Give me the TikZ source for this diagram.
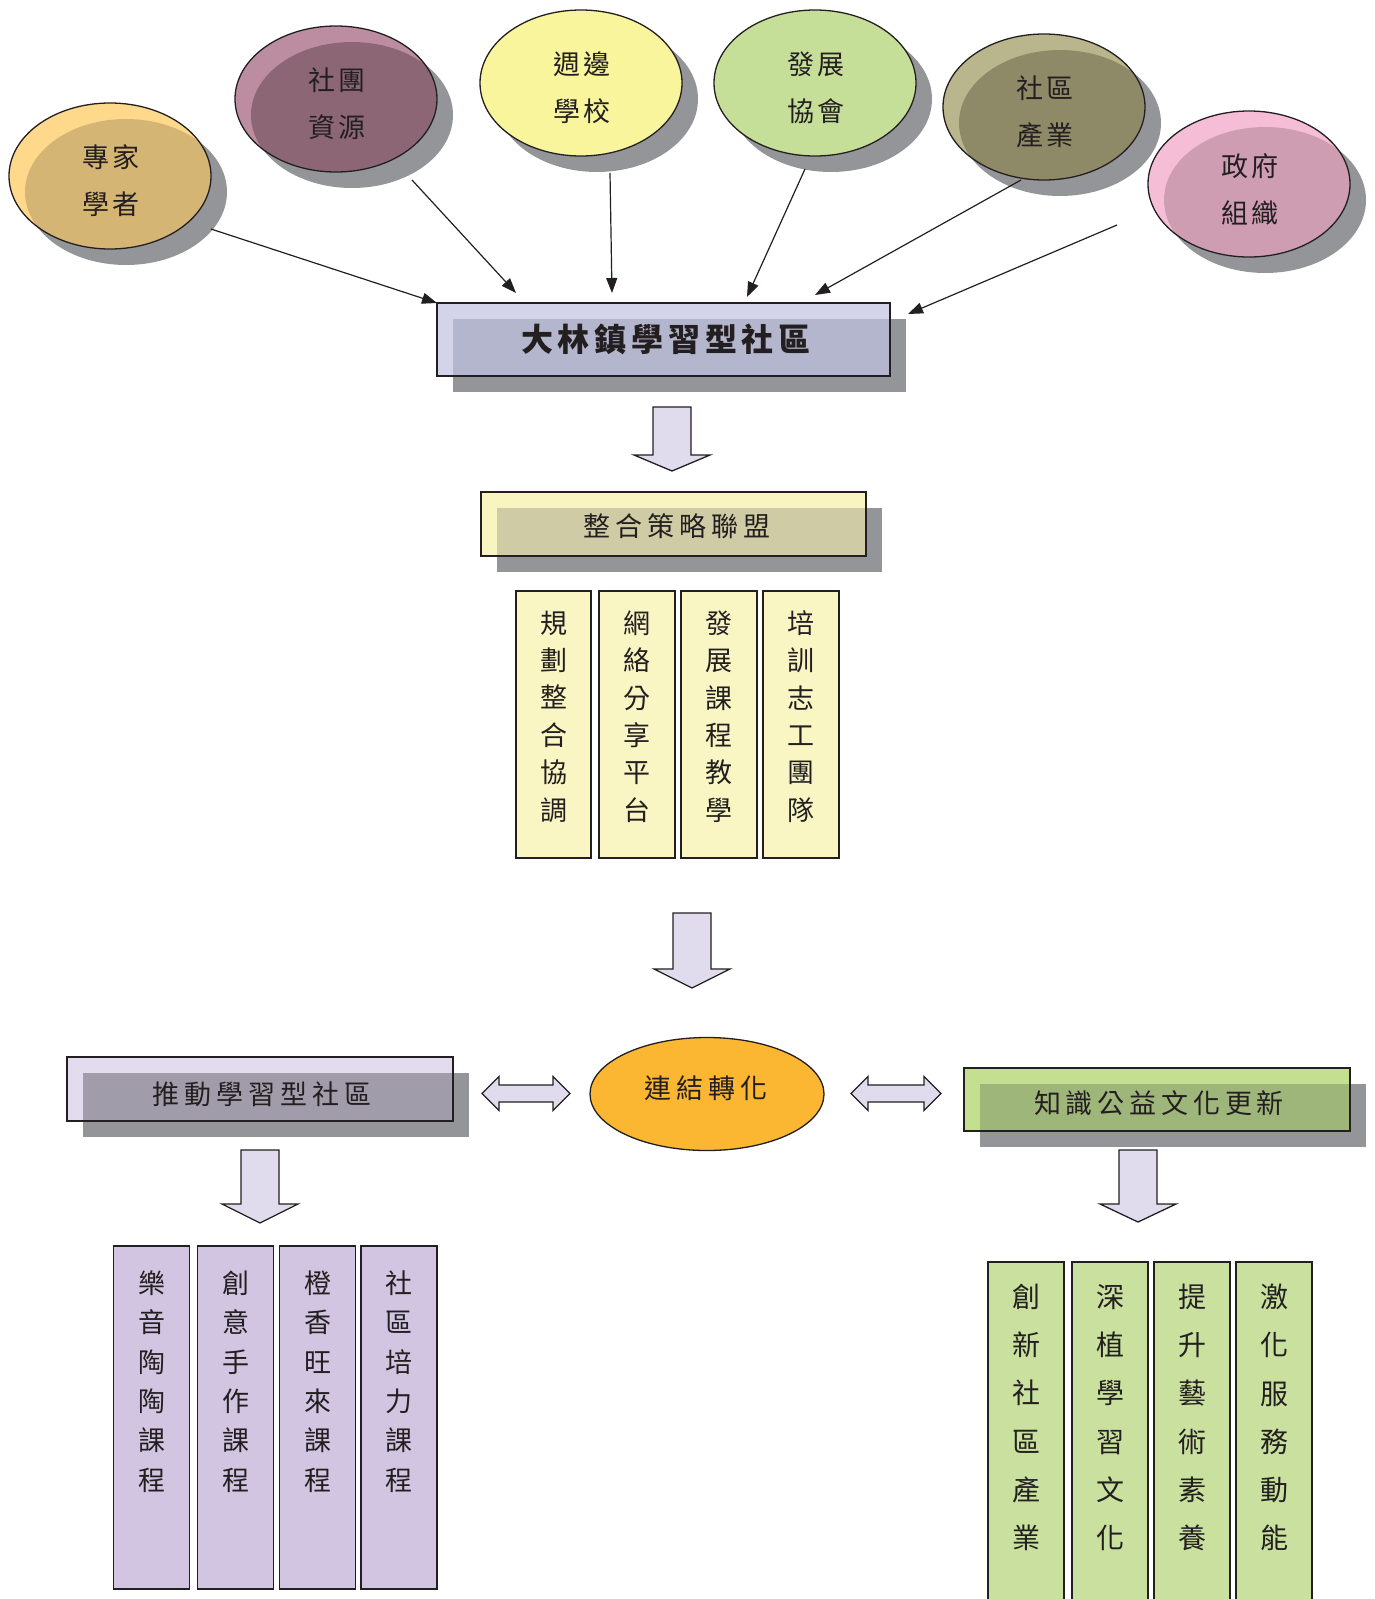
\documentclass[tikz,border=0pt]{standalone}
\usepackage{fontspec}
\newfontfamily\cjk{Noto Sans CJK TC}
\newfontfamily\cjkls{Noto Sans CJK TC}[LetterSpace=10]
\newfontfamily\cjkti{Noto Sans CJK TC}[LetterSpace=18]
\usetikzlibrary{arrows.meta,shapes.geometric}
\definecolor{shadowgray}{HTML}{939598}
\definecolor{ink}{HTML}{231F20}
\definecolor{lav}{HTML}{E1DBEE}
\definecolor{eAl}{HTML}{FFD98B}\definecolor{eAd}{HTML}{D4B573}
\definecolor{eBl}{HTML}{BC8CA1}\definecolor{eBd}{HTML}{8D6676}
\definecolor{eCl}{HTML}{F8F59D}\definecolor{eCd}{HTML}{F8F59D}
\definecolor{eDl}{HTML}{C6DF98}\definecolor{eDd}{HTML}{C6DF98}
\definecolor{eEl}{HTML}{B9B58C}\definecolor{eEd}{HTML}{8E8A68}
\definecolor{eFl}{HTML}{F5BDD6}\definecolor{eFd}{HTML}{CF9DB2}
\definecolor{mainl}{HTML}{D3D3E9}\definecolor{maind}{HTML}{B4B6CD}
\definecolor{yell}{HTML}{F9F5C1}\definecolor{yeld}{HTML}{CFCBA4}
\definecolor{ycol}{HTML}{FAF6C4}
\definecolor{purl}{HTML}{E2DCEE}\definecolor{purd}{HTML}{A19CA9}
\definecolor{pcol}{HTML}{D1C5E1}
\definecolor{grnl}{HTML}{C3DF8F}\definecolor{grnd}{HTML}{9FB67B}
\definecolor{gcol}{HTML}{C9E09E}
\definecolor{orng}{HTML}{FBB632}
\tikzset{
  bubblenode/.style={ellipse, draw=ink, line width=1.3pt, minimum width=202pt, minimum height=146pt, inner sep=0pt},
  bubbletext/.style={inner sep=0pt, align=center, text=ink, font=\cjkls\fontsize{27}{47}\selectfont},
  boxline/.style={draw=ink, line width=1.5pt, inner sep=0pt},
  titletext/.style={text=ink, inner sep=0pt, font=\cjkti\fontsize{27}{31}\selectfont},
  coltext/.style={text=ink, inner sep=0pt, align=center},
  conn/.style={draw=ink, line width=1.2pt, -{Triangle[length=15pt,width=11pt]}},
  blockarrow/.style={fill=lav, draw=ink, line width=1.3pt, line join=miter},
}
\newcommand\bubble[6]{%
  \fill[shadowgray] ({#2+16},{#3+16}) ellipse [x radius=101pt, y radius=73pt];
  \fill[#4] (#2,#3) ellipse [x radius=101pt, y radius=73pt];
  \begin{scope}
    \clip (#2,#3) ellipse [x radius=101pt, y radius=73pt];
    \fill[#5] ({#2+16},{#3+16}) ellipse [x radius=101pt, y radius=73pt];
  \end{scope}
  \node[bubblenode] (#1) at (#2,#3) {};
  \node[bubbletext] (#1t) at ({#2+1},{#3+5}) {#6};
}
% shadowed box: name, x1, y1, x2, y2, light, dark
\newcommand\shbox[7]{%
  \fill[shadowgray] ({#2+16},{#3+16}) rectangle ({#4+16},{#5+16});
  \fill[#6] (#2,#3) rectangle (#4,#5);
  \fill[#7] ({#2+16},{#3+16}) rectangle (#4,#5);
  \node[boxline, minimum width={#4-#2}, minimum height={#5-#3}] (#1) at ({(#2+#4)/2},{(#3+#5)/2}) {};
}
% down block arrow: cx, top, headbase, tip
\newcommand\downblock[4]{%
  \draw[blockarrow] ({#1-19},#2) -- ({#1+19},#2) -- ({#1+19},#3) -- ({#1+38},#3) -- (#1,#4) -- ({#1-38},#3) -- ({#1-19},#3) -- cycle;
}
% double block arrow: x1, x2, cy
\newcommand\dblblock[3]{%
  \draw[blockarrow] (#1,#3) -- ({#1+17},{#3-17}) -- ({#1+17},{#3-8.5}) -- ({#2-17},{#3-8.5}) -- ({#2-17},{#3-17}) -- (#2,#3) -- ({#2-17},{#3+17}) -- ({#2-17},{#3+8.5}) -- ({#1+17},{#3+8.5}) -- ({#1+17},{#3+17}) -- cycle;
}
\begin{document}
\begin{tikzpicture}[x=1pt,y=-1pt]
\useasboundingbox (0,0) rectangle (1375,1599);

% ---- top bubbles
\bubble{e1}{110}{176}{eAl}{eAd}{專家\\學者}
\bubble{e2}{336}{99}{eBl}{eBd}{社團\\資源}
\bubble{e3}{581}{83}{eCl}{eCd}{週邊\\學校}
\bubble{e4}{815}{83}{eDl}{eDd}{發展\\協會}
\bubble{e5}{1044}{107}{eEl}{eEd}{社區\\產業}
\bubble{e6}{1249}{184}{eFl}{eFd}{政府\\組織}

% ---- main box
\shbox{main}{437}{303}{890}{376}{mainl}{maind}
\node[text=ink, inner sep=0pt, font=\cjk\fontsize{32}{36}\selectfont\bfseries\addfontfeature{LetterSpace=15}] (mainT) at (666,339) {大林鎮學習型社區};

% ---- arrows into main box
\coordinate (s1) at (211,229); \coordinate (t1) at (437,303);
\coordinate (s2) at (412,180); \coordinate (t2) at (516,293);
\coordinate (s3) at (610,173); \coordinate (t3) at (612,293);
\coordinate (s4) at (805,169); \coordinate (t4) at (747,297);
\coordinate (s5) at (1021,180); \coordinate (t5) at (815,295);
\coordinate (s6) at (1117,225); \coordinate (t6) at (908,314);
\foreach \i in {1,...,6} { \draw[conn] (s\i) -- (t\i); }

% ---- first block arrow
\downblock{672}{407}{455}{471}

% ---- strategy box
\shbox{strat}{481}{492}{866}{556}{yell}{yeld}
\node[titletext] (stratT) at (677,526) {整合策略聯盟};

% ---- yellow columns
\foreach \n/\cx/\w/\t in {y1/553.5/75/{規\\劃\\整\\合\\協\\調}, y2/637/76/{網\\絡\\分\\享\\平\\台}, y3/719/76/{發\\展\\課\\程\\教\\學}, y4/801/76/{培\\訓\\志\\工\\團\\隊}} {
  \node[boxline, fill=ycol, minimum width=\w, minimum height=267] (\n) at (\cx,724.5) {};
  \node[coltext, font=\cjk\fontsize{27}{37.4}\selectfont] (\n t) at (\cx,716.5) {\t};
}

% ---- second block arrow
\downblock{692}{913}{969}{988}

% ---- middle row
\shbox{push}{67}{1057}{453}{1121}{purl}{purd}
\node[titletext] (pushT) at (262,1094) {推動學習型社區};
\node[ellipse, draw=ink, line width=1.3pt, fill=orng, minimum width=234pt, minimum height=113pt, inner sep=0pt] (link) at (707,1094) {};
\node[titletext] (linkT) at (706,1088) {連結轉化};
\shbox{know}{964}{1068}{1350}{1131}{grnl}{grnd}
\node[titletext] (knowT) at (1159,1103) {知識公益文化更新};
\dblblock{482}{570}{1093.5}
\dblblock{851}{941}{1093.5}

% ---- lower block arrows
\downblock{260}{1150}{1204}{1223}
\downblock{1138}{1150}{1204}{1222}

% ---- purple columns
\foreach \n/\cx/\t in {p1/151.5/{樂\\音\\陶\\陶\\課\\程}, p2/235.5/{創\\意\\手\\作\\課\\程}, p3/317.5/{橙\\香\\旺\\來\\課\\程}, p4/399/{社\\區\\培\\力\\課\\程}} {
  \node[boxline, fill=pcol, minimum width=76, minimum height=343] (\n) at (\cx,1417.5) {};
  \node[coltext, font=\cjk\fontsize{27}{39.4}\selectfont] (\n t) at (\cx,1381.5) {\t};
}

% ---- green columns
\foreach \n/\cx/\t in {g1/1026/{創\\新\\社\\區\\產\\業}, g2/1110/{深\\植\\學\\習\\文\\化}, g3/1192/{提\\升\\藝\\術\\素\\養}, g4/1274/{激\\化\\服\\務\\動\\能}} {
  \node[boxline, fill=gcol, minimum width=76, minimum height=370] (\n) at (\cx,1447) {};
  \node[coltext, font=\cjk\fontsize{28}{48.2}\selectfont] (\n t) at (\cx,1417.5) {\t};
}
\end{tikzpicture}
\end{document}
